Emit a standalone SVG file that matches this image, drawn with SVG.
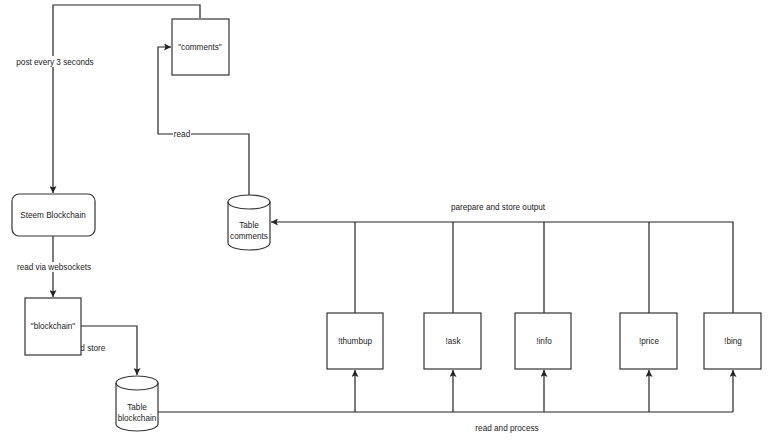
<svg xmlns="http://www.w3.org/2000/svg" width="768" height="448" viewBox="0 0 768 448">
<style>
.node{fill:#fff;stroke:#333;stroke-width:1.2}
.edge{fill:none;stroke:#222;stroke-width:1.2}
text{font-family:"Liberation Sans",Arial,sans-serif;font-size:8.2px;fill:#222;text-anchor:middle}
.bg{fill:#fff}
</style>
<defs>
<marker id="arr" markerUnits="userSpaceOnUse" markerWidth="8" markerHeight="7" refX="7" refY="3.5" orient="auto">
<path d="M0,0 L7,3.5 L0,7 L1.5,3.5 z" fill="#222"/>
</marker>
</defs>
<rect width="768" height="448" fill="#fff"/>
<g id="connectors">
<path class="edge" d="M200,18 V5 H53 V193" marker-end="url(#arr)"/>
<rect class="bg" x="17" y="56" width="76" height="11"/>
<text x="55" y="65">post every 3 seconds</text>
<path class="edge" d="M53,236 V297" marker-end="url(#arr)"/>
<rect class="bg" x="17" y="262" width="74" height="10"/>
<text x="54" y="270">read via websockets</text>
<path class="edge" d="M81,326 H137 V375" marker-end="url(#arr)"/>
<text x="79" y="351">read and store</text>
<path class="edge" d="M249,195 V134 H158 V47 H171" marker-end="url(#arr)"/>
<rect class="bg" x="173" y="129" width="18" height="10"/>
<text x="182" y="137">read</text>
<path class="edge" d="M158,412 H733"/>
<path class="edge" d="M355,412 V370" marker-end="url(#arr)"/>
<path class="edge" d="M453,412 V370" marker-end="url(#arr)"/>
<path class="edge" d="M544,412 V370" marker-end="url(#arr)"/>
<path class="edge" d="M649,412 V370" marker-end="url(#arr)"/>
<path class="edge" d="M733,412 V370" marker-end="url(#arr)"/>
<text x="507" y="431">read and process</text>
<path class="edge" d="M733,313 V222 H271" marker-end="url(#arr)"/>
<path class="edge" d="M355,313 V222"/>
<path class="edge" d="M453,313 V222"/>
<path class="edge" d="M544,313 V222"/>
<path class="edge" d="M649,313 V222"/>
<text x="498" y="210">parepare and store output</text>
</g>
<g id="comments">
<rect class="node" x="172" y="19" width="57" height="56"/>
<text x="200" y="50">"comments"</text>
</g>
<g id="steem">
<rect class="node" x="12" y="194" width="83" height="42" rx="7"/>
<text x="53" y="218">Steem Blockchain</text>
</g>
<g id="blockchain">
<rect class="node" x="25" y="298" width="56" height="57"/>
<text x="53" y="329">"blockchain"</text>
</g>
<g id="table-blockchain">
<path class="node" d="M116,383 a21,7 0 0,1 42,0 v41 a21,7 0 0,1 -42,0 z"/>
<path class="edge" style="stroke:#333" d="M116,383 a21,7 0 0,0 42,0"/>
<text x="137" y="410">Table</text>
<text x="137" y="421">blockchain</text>
</g>
<g id="table-comments">
<path class="node" d="M228,202 a21,7 0 0,1 42,0 v41 a21,7 0 0,1 -42,0 z"/>
<path class="edge" style="stroke:#333" d="M228,202 a21,7 0 0,0 42,0"/>
<text x="249" y="228">Table</text>
<text x="249" y="239">comments</text>
</g>
<g id="thumbup">
<rect class="node" x="327" y="313" width="56" height="56"/>
<text x="355" y="344">!thumbup</text>
</g>
<g id="ask">
<rect class="node" x="424" y="313" width="57" height="56"/>
<text x="453" y="344">!ask</text>
</g>
<g id="info">
<rect class="node" x="515" y="313" width="56" height="56"/>
<text x="544" y="344">!info</text>
</g>
<g id="price">
<rect class="node" x="620" y="313" width="57" height="56"/>
<text x="649" y="344">!price</text>
</g>
<g id="bing">
<rect class="node" x="704" y="313" width="57" height="56"/>
<text x="733" y="344">!bing</text>
</g>
</svg>
